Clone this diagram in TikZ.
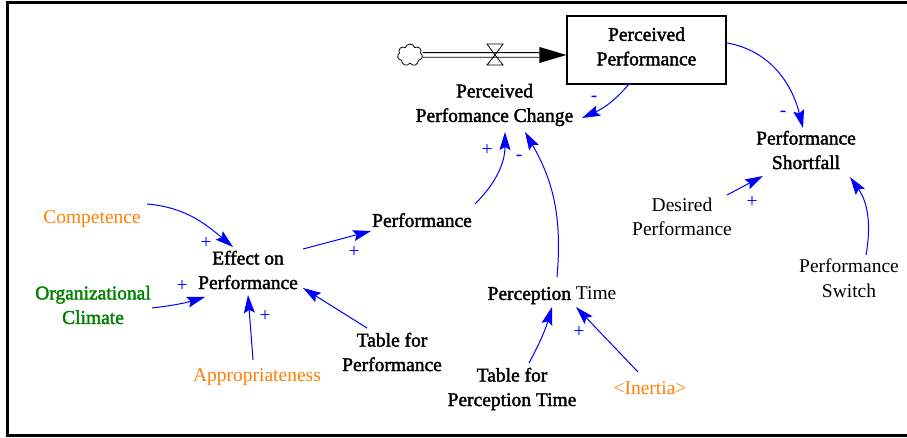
\documentclass[tikz,border=0pt]{standalone}
\usepackage{fontspec}
\setmainfont{Liberation Serif}
\newfontfamily\heavyfont{Liberation Serif}[FakeBold=2]
\usetikzlibrary{arrows.meta,shapes.symbols}

\definecolor{linkblue}{RGB}{0,0,255}
\definecolor{auxorange}{RGB}{255,128,0}
\definecolor{auxgreen}{RGB}{0,128,0}

\begin{document}
\begin{tikzpicture}[x=1pt,y=1pt,
  var/.style={inner sep=0pt, align=center,
    font=\fontsize{19.5}{24.5}\selectfont,
    execute at begin node={\rule{0pt}{21.2pt}},
    execute at end node={\rule[-7.35pt]{0pt}{7.35pt}}},
  keyvar/.style={var, font=\fontsize{19.5}{24.5}\selectfont\heavyfont},
  link/.style={draw=linkblue, line width=1pt,
    -{Stealth[length=18pt,width=11pt,inset=3pt]}},
  sign/.style={text=linkblue, inner sep=0pt,
    font=\fontsize{19.5}{24.5}\selectfont},
  pipe/.style={line width=0.9pt},
]
\useasboundingbox (0,0) rectangle (907,438);

% frame
\draw[line width=3pt] (907,435) -- (7,435) -- (7,2.5) -- (907,2.5);

% stock and its inflow
\node[keyvar, draw, line width=1.1pt, minimum width=159pt, minimum height=68pt]
  (pp) at (646.5,388) {Perceived\\Performance};
\node[cloud, cloud puffs=7, draw, line width=0.8pt, minimum width=25pt,
  minimum height=22pt, inner sep=0pt, aspect=1.1] (src) at (410,383) {};
\coordinate (valve) at (495,383);
\draw[pipe] ([yshift=2.3pt]src.east) -- ([xshift=-27pt,yshift=-2.7pt]pp.west);
\draw[pipe] ([yshift=-2.3pt]src.east) -- ([xshift=-27pt,yshift=-7.3pt]pp.west);
\fill ([xshift=-27pt,yshift=3pt]pp.west) -- ([yshift=-5pt]pp.west)
  -- ([xshift=-27pt,yshift=-13pt]pp.west) -- cycle;
\draw[line width=0.8pt] ([shift={(-8,11)}]valve) -- ([shift={(8,11)}]valve) -- (valve) -- cycle;
\draw[line width=0.8pt] ([shift={(-8,-10)}]valve) -- ([shift={(8,-10)}]valve) -- (valve) -- cycle;

% variables
\node[keyvar] (ppc) at (494.5,331.4) {Perceived\\Perfomance Change};
\node[keyvar] (ps) at (806,284.4) {Performance\\Shortfall};
\node[var] (dp) at (682,217.4) {Desired\\Performance};
\node[var] (sw) at (849,156.4) {Performance\\Switch};
\node[var, text=auxorange] (comp) at (92,221) {Competence};
\node[keyvar] (eff) at (248,164.4) {Effect on\\Performance};
\node[keyvar, text=auxgreen] (oc) at (93,129.4) {Organizational\\Climate};
\node[var, text=auxorange] (app) at (257,63) {Appropriateness};
\node[keyvar] (perf) at (422,218) {Performance};
\node[var] (pt) at (552,145) {{\heavyfont Perception} Time};
\node[keyvar] (tfp) at (392,82.4) {Table for\\Performance};
\node[keyvar] (tpt) at (512,47.4) {Table for\\Perception Time};
\node[var, text=auxorange] (inr) at (650,50) {<Inertia>};

% causal links
\draw[link] ([shift={(-17.5,-34)}]pp.center) to[out=-130,in=24] ([shift={(87.5,-11.4)}]ppc.center);
\draw[link] ([shift={(80.5,7)}]pp.center) to[out=-10,in=104] ([shift={(-3,25.6)}]ps.center);
\draw[link] ([shift={(45,25.6)}]dp.center) -- ([shift={(-43,-22.4)}]ps.center);
\draw[link] ([shift={(17,26.6)}]sw.center) to[out=80,in=-55] ([shift={(44,-23.4)}]ps.center);
\draw[link] ([shift={(55,13)}]comp.center) to[out=-5,in=140] ([shift={(-15,26.6)}]eff.center);
\draw[link] ([shift={(59,0.6)}]oc.center) to[bend right=5] ([shift={(-43,-23.4)}]eff.center);
\draw[link] ([shift={(-4,15)}]app.center) -- ([shift={(0,-21.4)}]eff.center);
\draw[link] ([shift={(-25,27.6)}]tfp.center) -- ([shift={(55,-14.4)}]eff.center);
\draw[link] ([shift={(55,24.6)}]eff.center) -- ([shift={(-51,-11)}]perf.center);
\draw[link] ([shift={(53,16)}]perf.center) to[out=45,in=-90] ([shift={(10.5,-25.4)}]ppc.center);
\draw[link] ([shift={(5,16)}]pt.center) to[out=85,in=-60] ([shift={(30.5,-25.4)}]ppc.center);
\draw[link] ([shift={(17,27.6)}]tpt.center) to[bend right=6] ([shift={(0,-14)}]pt.center);
\draw[link] ([shift={(-12,16)}]inr.center) -- ([shift={(24,-14)}]pt.center);

% link polarities
\node[sign] (s1) at (594,338.7) {-};
\node[sign] (s2) at (783,324) {-};
\node[sign] (s3) at (752,236) {+};
\node[sign] (s4) at (206,195) {+};
\node[sign] (s5) at (182,152) {+};
\node[sign] (s6) at (265,122) {+};
\node[sign] (s7) at (354,186) {+};
\node[sign] (s8) at (487,288) {+};
\node[sign] (s9) at (519,280) {-};
\node[sign] (s10) at (579,106) {+};
\end{tikzpicture}
\end{document}
